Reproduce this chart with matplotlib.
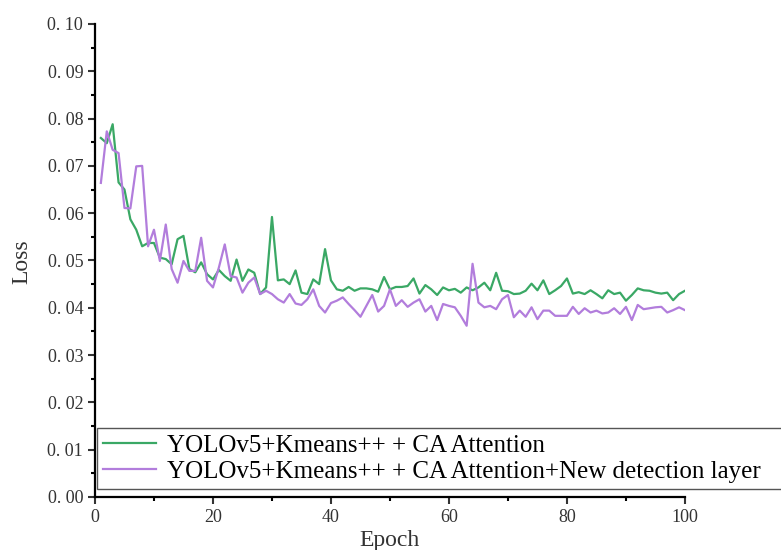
import matplotlib
matplotlib.use('Agg')
import matplotlib.pyplot as plt
from matplotlib.ticker import MultipleLocator, FuncFormatter

epoch = list(range(1, 101))

ca = [0.0759, 0.0748, 0.0788, 0.0665, 0.0650, 0.0587, 0.0565, 0.0530, 0.0537, 0.0537,
      0.0506, 0.0503, 0.0492, 0.0545, 0.0552, 0.0482, 0.0475, 0.0496, 0.0471, 0.0460,
      0.0480, 0.0467, 0.0457, 0.0502, 0.0457, 0.0481, 0.0474, 0.0429, 0.0443, 0.0592,
      0.0458, 0.0460, 0.0450, 0.0479, 0.0432, 0.0429, 0.0460, 0.0450, 0.0524, 0.0458,
      0.0439, 0.0436, 0.0444, 0.0436, 0.0441, 0.0441, 0.0439, 0.0434, 0.0465, 0.0439,
      0.0444, 0.0444, 0.0446, 0.0462, 0.0430, 0.0448, 0.0439, 0.0427, 0.0443, 0.0437,
      0.0440, 0.0432, 0.0443, 0.0437, 0.0443, 0.0453, 0.0437, 0.0474, 0.0436, 0.0435,
      0.0429, 0.0430, 0.0436, 0.0451, 0.0437, 0.0458, 0.0429, 0.0437, 0.0446, 0.0462,
      0.0430, 0.0433, 0.0429, 0.0437, 0.0429, 0.0420, 0.0437, 0.0429, 0.0432, 0.0415,
      0.0427, 0.0441, 0.0437, 0.0436, 0.0432, 0.0430, 0.0432, 0.0416, 0.0429, 0.0436]

ca_new = [0.0664, 0.0773, 0.0734, 0.0727, 0.0611, 0.0610, 0.0699, 0.0700, 0.0530, 0.0565,
          0.0499, 0.0576, 0.0482, 0.0453, 0.0499, 0.0478, 0.0478, 0.0548, 0.0457, 0.0443,
          0.0485, 0.0534, 0.0467, 0.0464, 0.0432, 0.0453, 0.0464, 0.0429, 0.0436, 0.0429,
          0.0418, 0.0411, 0.0429, 0.0409, 0.0406, 0.0418, 0.0439, 0.0404, 0.0390, 0.0410,
          0.0415, 0.0422, 0.0408, 0.0395, 0.0381, 0.0404, 0.0427, 0.0392, 0.0404, 0.0439,
          0.0404, 0.0416, 0.0402, 0.0411, 0.0418, 0.0392, 0.0404, 0.0374, 0.0408, 0.0404,
          0.0401, 0.0383, 0.0362, 0.0493, 0.0411, 0.0401, 0.0404, 0.0397, 0.0418, 0.0427,
          0.0380, 0.0394, 0.0381, 0.0401, 0.0376, 0.0394, 0.0394, 0.0383, 0.0383, 0.0383,
          0.0402, 0.0387, 0.0399, 0.0390, 0.0394, 0.0388, 0.0390, 0.0399, 0.0387, 0.0402,
          0.0374, 0.0406, 0.0397, 0.0399, 0.0401, 0.0402, 0.0390, 0.0395, 0.0401, 0.0395]

labels = ['YOLOv5+Kmeans++ + CA Attention',
          'YOLOv5+Kmeans++ + CA Attention+New detection layer']

plt.rcParams['font.family'] = ['Liberation Serif', 'DejaVu Serif']

fig = plt.figure(figsize=(7.81, 5.5), dpi=100)
ax = fig.add_axes([0.1216, 0.0964, 0.7554, 0.86])

ax.plot(epoch, ca, color='#3aa865', lw=1.6, label=labels[0])
ax.plot(epoch, ca_new, color='#b27ddc', lw=1.6, label=labels[1])

ax.set_xlim(0, 100)
ax.set_ylim(0, 0.1)
ax.xaxis.set_major_locator(MultipleLocator(20))
ax.xaxis.set_minor_locator(MultipleLocator(10))
ax.yaxis.set_major_locator(MultipleLocator(0.01))
ax.yaxis.set_minor_locator(MultipleLocator(0.005))
ax.yaxis.set_major_formatter(FuncFormatter(lambda v, p: ('%.2f' % v).replace('.', '. ')))

for s in ['top', 'right']:
    ax.spines[s].set_visible(False)
for s in ['left', 'bottom']:
    ax.spines[s].set_linewidth(1.6)

ax.tick_params(which='major', direction='out', length=5, width=1.5, labelsize=13, colors='#333333')
ax.tick_params(which='minor', direction='out', length=3, width=1.5)

ax.set_xlabel('Epoch', fontsize=17, color='#333333', va='center')
ax.xaxis.set_label_coords(0.5, -0.091)
ax.set_ylabel('Loss', fontsize=17, color='#333333', va='center')
ax.yaxis.set_label_coords(-0.124, 0.497)

leg = fig.legend(loc='upper left', bbox_to_anchor=(0.124, 0.1145, 0.9, 0.1073), mode='expand',
                 borderaxespad=0, fontsize=18, labelspacing=0.15, handlelength=2.1,
                 handletextpad=0.45, borderpad=0.25, fancybox=False, framealpha=1,
                 edgecolor='#555555')
leg.get_frame().set_linewidth(1.0)

plt.savefig('out.png', dpi=100)
